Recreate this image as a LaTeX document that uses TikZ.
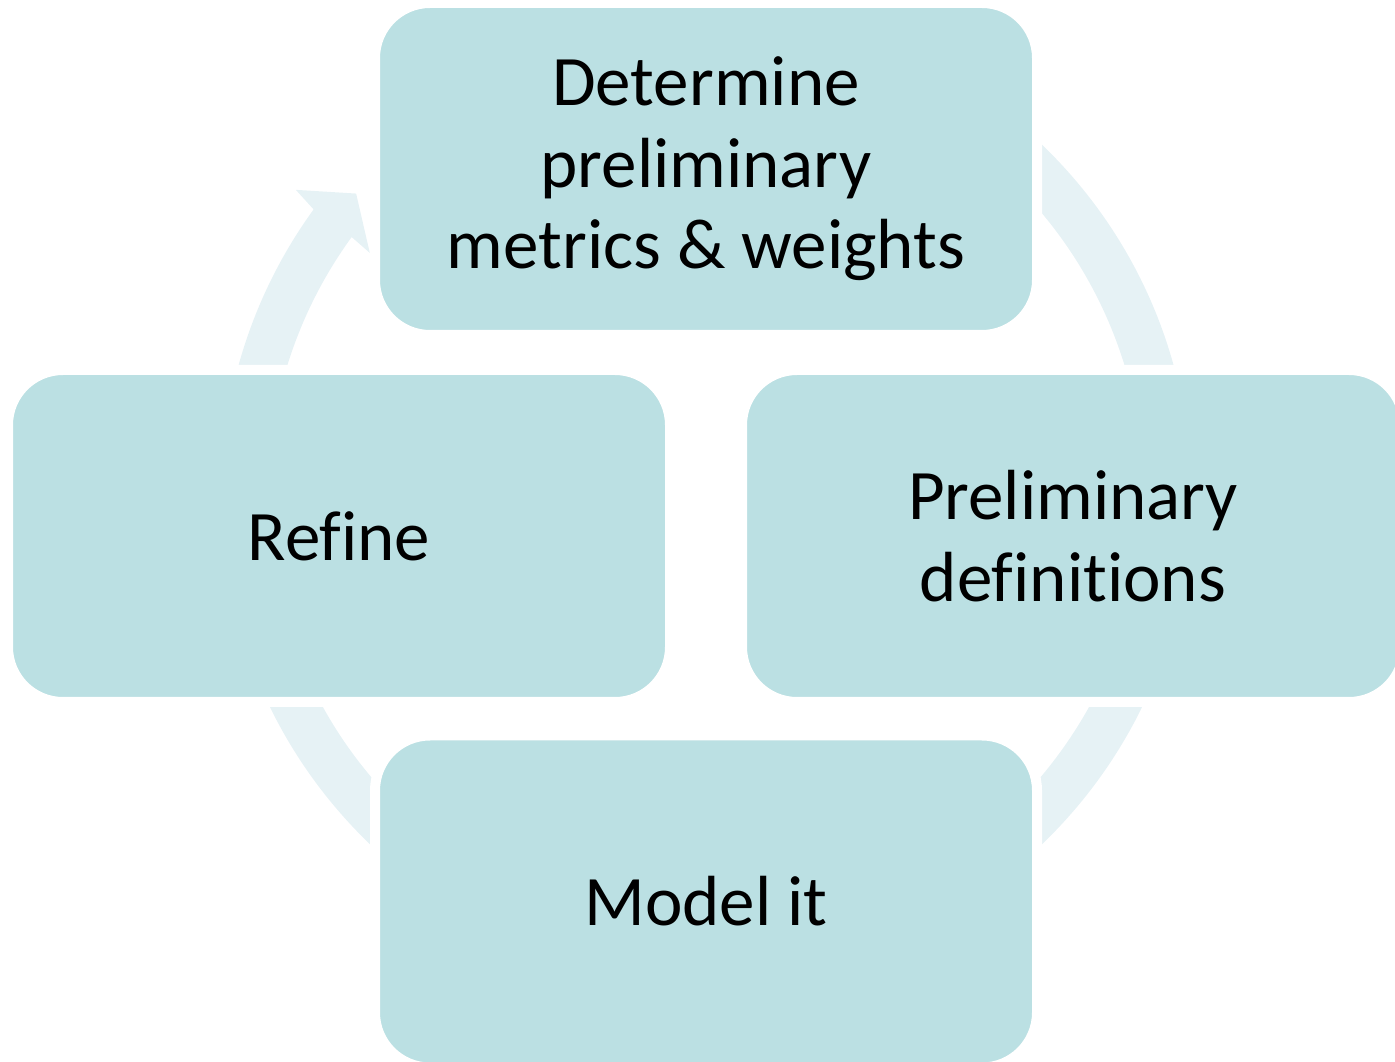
\documentclass[tikz,border=0pt]{standalone}
\usepackage{fontspec}
\setmainfont{Carlito}[Ligatures={NoCommon}]
\definecolor{boxfill}{RGB}{187,224,227}
\definecolor{ringfill}{RGB}{230,242,245}
\tikzset{
  stepbox/.style={rectangle, rounded corners=55, fill=boxfill, draw=white, line width=10,
    minimum width=662, minimum height=332, align=center, text=black,
    font=\fontsize{71}{81.5}\selectfont, inner sep=0pt},
  ring/.style={fill=ringfill, draw=none}
}
\begin{document}
\begin{tikzpicture}[x=1pt,y=1pt]
\useasboundingbox (0,0) rectangle (1395,1061);
\clip (0,0) rectangle (1395,1061);
% circular arrow behind the boxes
\begin{scope}[shift={(706,566.5)}]
\fill[ring] (90:485) arc[start angle=90, end angle=-216, radius=485]
  -- (-216.6:511) -- (-220.7:461.5) -- (-215.7:414) -- (-216:438)
  arc[start angle=-216, end angle=90, radius=438] -- cycle;
\end{scope}
% boxes
\node[stepbox] (top) at (706,892) {Determine\\preliminary\\metrics \& weights};
\node[stepbox] (right) at (1073,525) {Preliminary\\definitions};
\node[stepbox] (bottom) at (706,159.5) {Model it};
\node[stepbox] (left) at (339,525) {Refine};
\end{tikzpicture}
\end{document}
